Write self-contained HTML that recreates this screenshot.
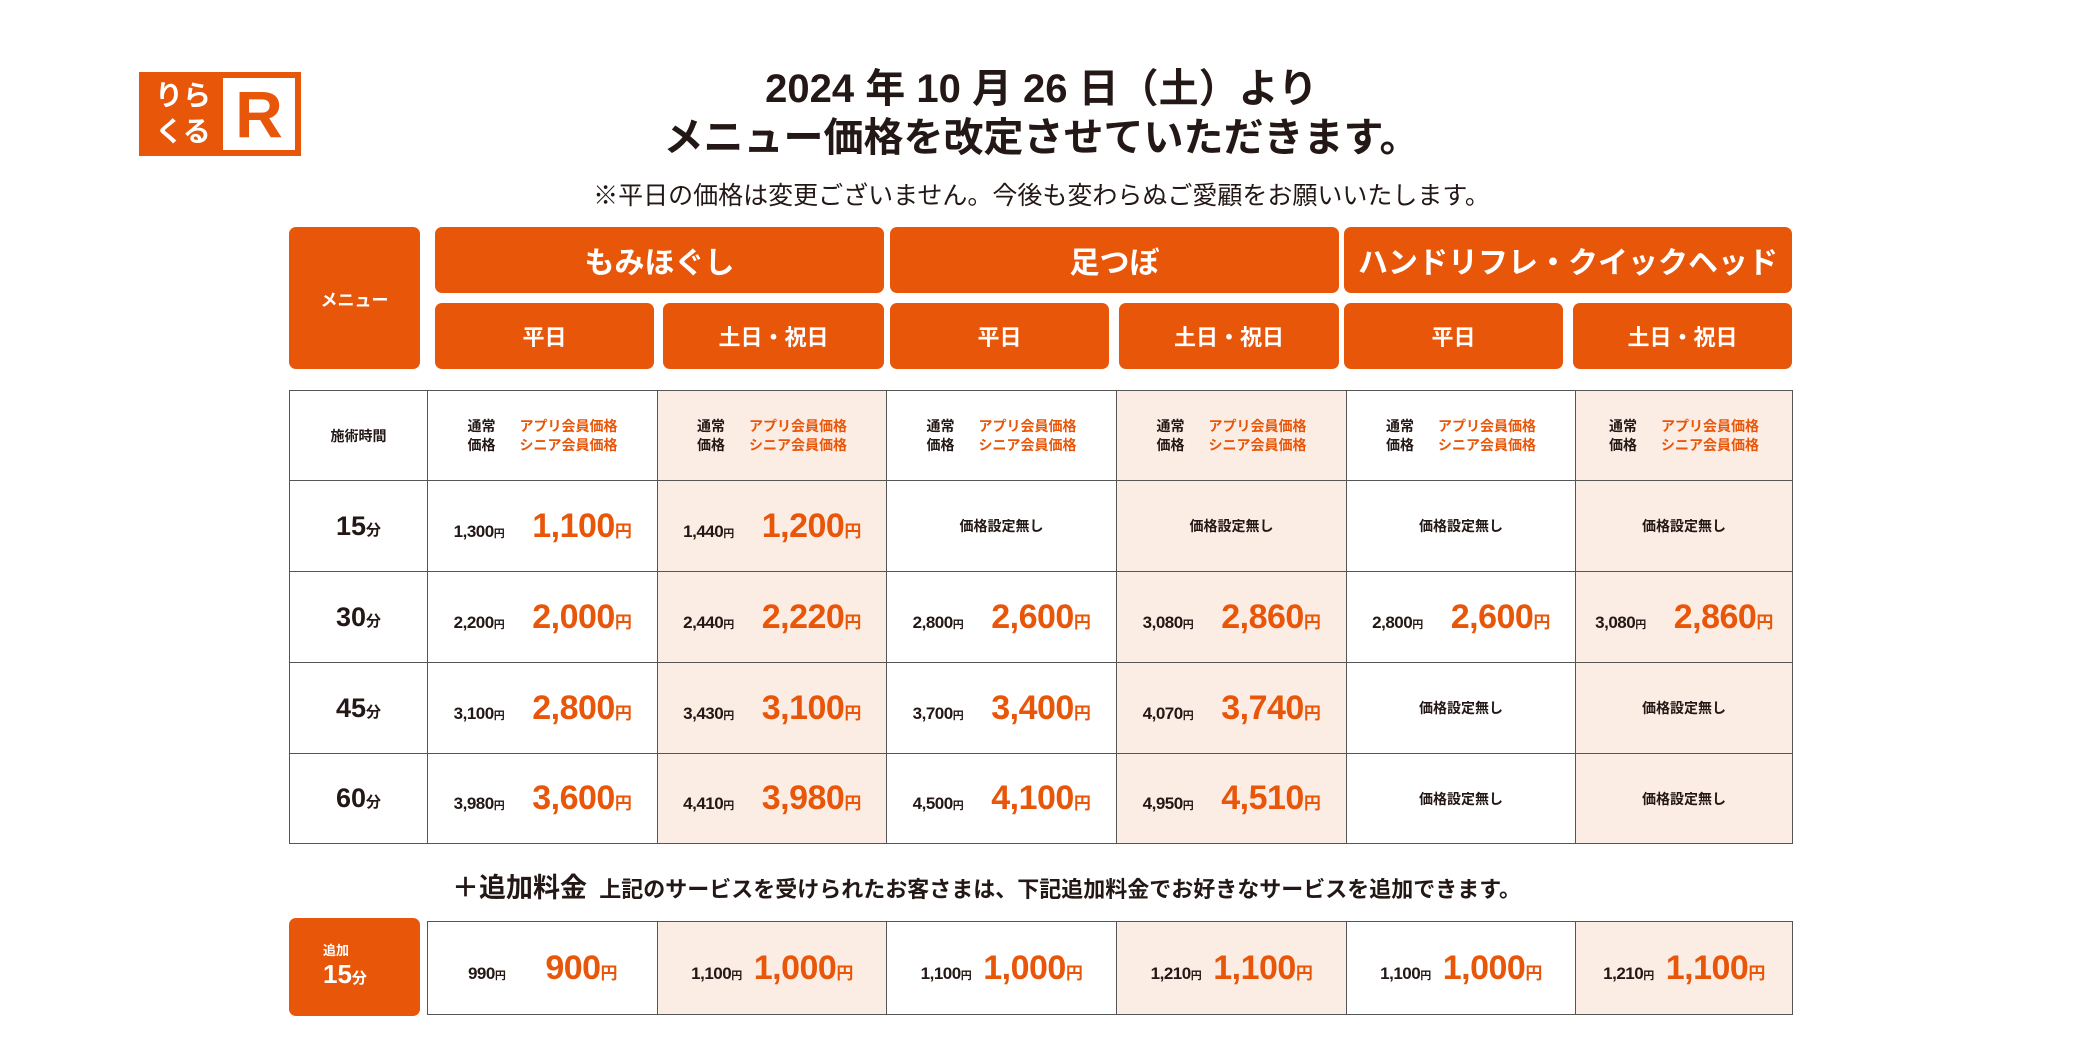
<!DOCTYPE html>
<html><head><meta charset="utf-8"><style>
*{margin:0;padding:0;box-sizing:border-box}
body{width:2083px;height:1042px;background:#fff;position:relative;overflow:hidden;font-family:"Liberation Sans","Noto Sans CJK JP",sans-serif;color:#231815}
.a{position:absolute}
.o{background:#e8560a;color:#fff;font-weight:bold;border-radius:7px;display:flex;align-items:center;justify-content:center}
.t{position:absolute;left:289px;top:390px;width:1503px;border-collapse:collapse;table-layout:fixed}
.t td{border:1.5px solid #555;text-align:center;vertical-align:middle;font-weight:bold}
.p{background:#fcede4}
.s{font-size:17px;color:#231815;letter-spacing:-0.5px}
.y{font-size:11px}
.b{font-size:34px;color:#e8560a;letter-spacing:-0.5px;margin-left:28px}
.by{font-size:17px;color:#e8560a}
.n{font-size:14px}
.h{font-size:14px;line-height:19px;display:flex;justify-content:center;gap:24px;text-align:left}
.r{color:#e8560a}
.tm{font-size:27px}
.tm span{font-size:15px}
</style></head><body>
<div class="a" style="left:139px;top:72px;width:162px;height:84px;background:#e8560a"></div>
<div class="a" style="left:223px;top:78px;width:72px;height:72px;background:#fff;color:#e8560a;font-size:66px;font-weight:bold;line-height:72px;text-align:center">R</div>
<div class="a" style="left:146px;top:78px;width:74px;color:#fff;font-size:28px;font-weight:bold;line-height:36px;text-align:center">りら<br>くる</div>
<div class="a" style="left:0;width:2083px;top:64px;text-align:center;font-size:40px;font-weight:bold;line-height:50px">2024 年 10 月 26 日（土）より</div>
<div class="a" style="left:0;width:2083px;top:113px;text-align:center;font-size:40px;font-weight:bold;line-height:50px">メニュー価格を改定させていただきます。</div>
<div class="a" style="left:0;width:2083px;top:180px;text-align:center;font-size:25px;line-height:32px">※平日の価格は変更ございません。今後も変わらぬご愛顧をお願いいたします。</div>
<div class="a o" style="left:289px;top:227px;width:131px;height:142px;font-size:17px">メニュー</div>
<div class="a o" style="left:435px;top:227px;width:449px;height:66px;font-size:30px">もみほぐし</div>
<div class="a o" style="left:890px;top:227px;width:449px;height:66px;font-size:30px">足つぼ</div>
<div class="a o" style="left:1344px;top:227px;width:448px;height:66px;font-size:30px">ハンドリフレ・クイックヘッド</div>
<div class="a o" style="left:435px;top:303px;width:219px;height:66px;font-size:22px">平日</div>
<div class="a o" style="left:663px;top:303px;width:221px;height:66px;font-size:22px">土日・祝日</div>
<div class="a o" style="left:890px;top:303px;width:219px;height:66px;font-size:22px">平日</div>
<div class="a o" style="left:1119px;top:303px;width:220px;height:66px;font-size:22px">土日・祝日</div>
<div class="a o" style="left:1344px;top:303px;width:219px;height:66px;font-size:22px">平日</div>
<div class="a o" style="left:1573px;top:303px;width:219px;height:66px;font-size:22px">土日・祝日</div>

<table class="t">
<colgroup><col style="width:138px"><col style="width:230px"><col style="width:229px"><col style="width:230px"><col style="width:230px"><col style="width:229px"><col style="width:217px"></colgroup>
<tr style="height:90px"><td style="font-size:14px">施術時間</td>
<td><div class="h"><div>通常<br>価格</div><div class="r">アプリ会員価格<br>シニア会員価格</div></div></td>
<td class="p"><div class="h"><div>通常<br>価格</div><div class="r">アプリ会員価格<br>シニア会員価格</div></div></td>
<td><div class="h"><div>通常<br>価格</div><div class="r">アプリ会員価格<br>シニア会員価格</div></div></td>
<td class="p"><div class="h"><div>通常<br>価格</div><div class="r">アプリ会員価格<br>シニア会員価格</div></div></td>
<td><div class="h"><div>通常<br>価格</div><div class="r">アプリ会員価格<br>シニア会員価格</div></div></td>
<td class="p"><div class="h"><div>通常<br>価格</div><div class="r">アプリ会員価格<br>シニア会員価格</div></div></td></tr>
<tr style="height:91px"><td class="tm">15<span>分</span></td>
<td><span class="s">1,300<span class="y">円</span></span><span class="b">1,100<span class="by">円</span></span></td>
<td class="p"><span class="s">1,440<span class="y">円</span></span><span class="b">1,200<span class="by">円</span></span></td>
<td class="n">価格設定無し</td><td class="p n">価格設定無し</td><td class="n">価格設定無し</td><td class="p n">価格設定無し</td></tr>
<tr style="height:91px"><td class="tm">30<span>分</span></td>
<td><span class="s">2,200<span class="y">円</span></span><span class="b">2,000<span class="by">円</span></span></td>
<td class="p"><span class="s">2,440<span class="y">円</span></span><span class="b">2,220<span class="by">円</span></span></td>
<td><span class="s">2,800<span class="y">円</span></span><span class="b">2,600<span class="by">円</span></span></td>
<td class="p"><span class="s">3,080<span class="y">円</span></span><span class="b">2,860<span class="by">円</span></span></td>
<td><span class="s">2,800<span class="y">円</span></span><span class="b">2,600<span class="by">円</span></span></td>
<td class="p"><span class="s">3,080<span class="y">円</span></span><span class="b">2,860<span class="by">円</span></span></td></tr>
<tr style="height:91px"><td class="tm">45<span>分</span></td>
<td><span class="s">3,100<span class="y">円</span></span><span class="b">2,800<span class="by">円</span></span></td>
<td class="p"><span class="s">3,430<span class="y">円</span></span><span class="b">3,100<span class="by">円</span></span></td>
<td><span class="s">3,700<span class="y">円</span></span><span class="b">3,400<span class="by">円</span></span></td>
<td class="p"><span class="s">4,070<span class="y">円</span></span><span class="b">3,740<span class="by">円</span></span></td>
<td class="n">価格設定無し</td><td class="p n">価格設定無し</td></tr>
<tr style="height:90px"><td class="tm">60<span>分</span></td>
<td><span class="s">3,980<span class="y">円</span></span><span class="b">3,600<span class="by">円</span></span></td>
<td class="p"><span class="s">4,410<span class="y">円</span></span><span class="b">3,980<span class="by">円</span></span></td>
<td><span class="s">4,500<span class="y">円</span></span><span class="b">4,100<span class="by">円</span></span></td>
<td class="p"><span class="s">4,950<span class="y">円</span></span><span class="b">4,510<span class="by">円</span></span></td>
<td class="n">価格設定無し</td><td class="p n">価格設定無し</td></tr>
</table>

<div class="a" style="left:452px;top:872px;font-size:22px;font-weight:bold;line-height:32px"><span style="font-size:27px">＋追加料金</span>&nbsp;&nbsp;上記のサービスを受けられたお客さまは、下記追加料金でお好きなサービスを追加できます。</div>
<div class="a o" style="left:289px;top:918px;width:131px;height:98px;flex-direction:column;align-items:flex-start;padding-left:34px"><div style="font-size:13px">追加</div><div style="font-size:26px;line-height:30px">15<span style="font-size:15px">分</span></div></div>
<table class="t" style="left:427px;top:921px;width:1365px">
<colgroup><col style="width:230px"><col style="width:229px"><col style="width:230px"><col style="width:230px"><col style="width:229px"><col style="width:217px"></colgroup>
<tr style="height:93px">
<td><span class="s">990<span class="y">円</span></span><span class="b" style="margin-left:40px">900<span class="by">円</span></span></td>
<td class="p"><span class="s">1,100<span class="y">円</span></span><span class="b" style="margin-left:12px">1,000<span class="by">円</span></span></td>
<td><span class="s">1,100<span class="y">円</span></span><span class="b" style="margin-left:12px">1,000<span class="by">円</span></span></td>
<td class="p"><span class="s">1,210<span class="y">円</span></span><span class="b" style="margin-left:12px">1,100<span class="by">円</span></span></td>
<td><span class="s">1,100<span class="y">円</span></span><span class="b" style="margin-left:12px">1,000<span class="by">円</span></span></td>
<td class="p"><span class="s">1,210<span class="y">円</span></span><span class="b" style="margin-left:12px">1,100<span class="by">円</span></span></td>
</tr></table>
</body></html>
